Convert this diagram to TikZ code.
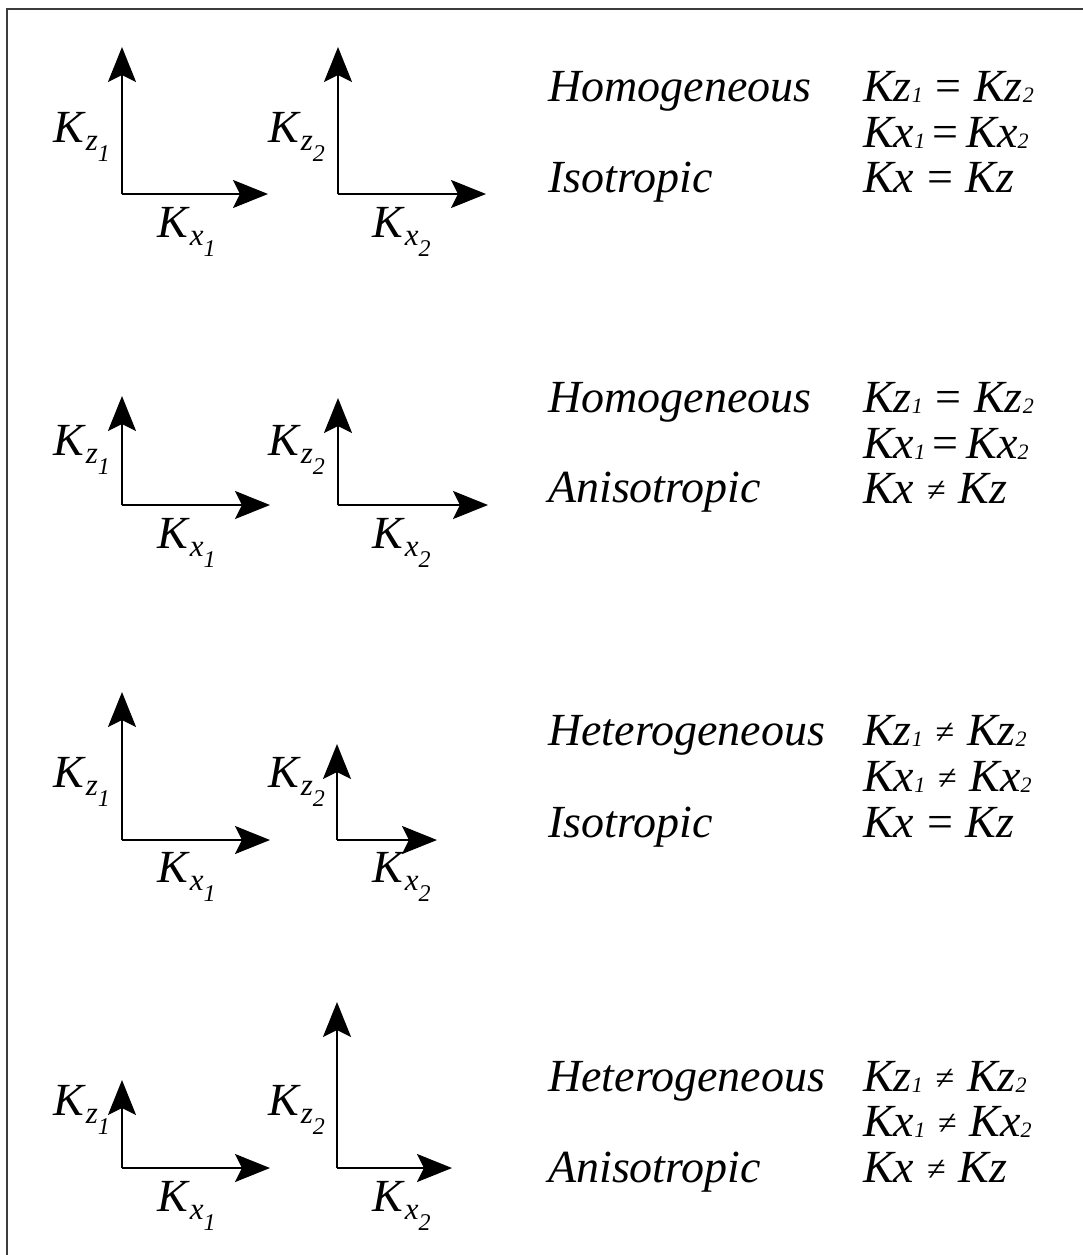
\documentclass[tikz,border=0pt]{standalone}
\usepackage{fontspec}
\setmainfont{Liberation Serif}
\usetikzlibrary{arrows.meta}
\definecolor{framegray}{RGB}{60, 60, 60}
% axis label K with a subscript and a sub-subscript
\newcommand{\kaxis}[2]{\textit{K}\raisebox{-8pt}{\fontsize{31}{31}\selectfont\textit{#1}\raisebox{-11pt}{\fontsize{24}{24}\selectfont\textit{#2}}}}
% K value with a small index, as in the right column
\newcommand{\kval}[2]{\textit{K#1}\raisebox{-1pt}{\fontsize{22}{22}\selectfont\textit{#2}}}
\newcommand{\keq}{\;=\;}
\newcommand{\kne}{\;{\fontsize{34}{34}\selectfont\raisebox{2pt}{≠}}\;}
\tikzset{
  axis/.style={line width=2.4pt, -{Stealth[length=35pt, width=28pt, inset=7pt]}},
  word/.style={anchor=base west, inner sep=0pt, font=\fontsize{46}{46}\selectfont\itshape},
  klabel/.style={anchor=base west, inner sep=0pt, font=\fontsize{46}{46}\selectfont}
}

\begin{document}
\begin{tikzpicture}[x=1pt, y=-1pt]
\useasboundingbox (0,0) rectangle (1083,1255);
\draw[framegray, line width=2pt] (7,1255) -- (7,9) -- (1083,9);

% row 1: homogeneous, isotropic
\coordinate (oa1) at (122,194); \coordinate (za1) at (122,47); \coordinate (xa1) at (268,194);
\coordinate (ob1) at (338,194); \coordinate (zb1) at (338,47); \coordinate (xb1) at (486,194);
\draw[axis] (oa1) -- (za1); \draw[axis] (oa1) -- (xa1);
\draw[axis] (ob1) -- (zb1); \draw[axis] (ob1) -- (xb1);
\node[klabel] (lza1) at (53,142) {\kaxis{z}{1}};
\node[klabel] (lxa1) at (157,237) {\kaxis{x}{1}};
\node[klabel] (lzb1) at (268,142) {\kaxis{z}{2}};
\node[klabel] (lxb1) at (372,237) {\kaxis{x}{2}};
\node[word] (hom1) at (548,101) {Homogeneous};
\node[word] (iso1) at (548,192) {Isotropic};
\node[klabel] (ez1) at (863,101) {\kval{z}{1}\keq\kval{z}{2}};
\node[klabel] (ex1) at (863,147) {\kval{x}{1}\,=\,\kval{x}{2}};
\node[klabel] (ek1) at (863,192) {\textit{Kx}\keq\textit{Kz}};

% row 2: homogeneous, anisotropic
\coordinate (oa2) at (122,505); \coordinate (za2) at (122,396); \coordinate (xa2) at (270,505);
\coordinate (ob2) at (338,505); \coordinate (zb2) at (338,398); \coordinate (xb2) at (488,505);
\draw[axis] (oa2) -- (za2); \draw[axis] (oa2) -- (xa2);
\draw[axis] (ob2) -- (zb2); \draw[axis] (ob2) -- (xb2);
\node[klabel] (lza2) at (53,455) {\kaxis{z}{1}};
\node[klabel] (lxa2) at (157,548) {\kaxis{x}{1}};
\node[klabel] (lzb2) at (268,455) {\kaxis{z}{2}};
\node[klabel] (lxb2) at (372,548) {\kaxis{x}{2}};
\node[word] (hom2) at (548,412) {Homogeneous};
\node[word] (ani2) at (548,502) {Anisotropic};
\node[klabel] (ez2) at (863,412) {\kval{z}{1}\keq\kval{z}{2}};
\node[klabel] (ex2) at (863,458) {\kval{x}{1}\,=\,\kval{x}{2}};
\node[klabel] (ek2) at (863,503) {\textit{Kx}\kne\textit{Kz}};

% row 3: heterogeneous, isotropic
\coordinate (oa3) at (122,840); \coordinate (za3) at (122,692); \coordinate (xa3) at (270,840);
\coordinate (ob3) at (337,840); \coordinate (zb3) at (337,744); \coordinate (xb3) at (437,840);
\draw[axis] (oa3) -- (za3); \draw[axis] (oa3) -- (xa3);
\draw[axis] (ob3) -- (zb3); \draw[axis] (ob3) -- (xb3);
\node[klabel] (lza3) at (53,787) {\kaxis{z}{1}};
\node[klabel] (lxa3) at (157,882) {\kaxis{x}{1}};
\node[klabel] (lzb3) at (268,787) {\kaxis{z}{2}};
\node[klabel] (lxb3) at (372,882) {\kaxis{x}{2}};
\node[word] (het3) at (548,745) {Heterogeneous};
\node[word] (iso3) at (548,837) {Isotropic};
\node[klabel] (ez3) at (863,745) {\kval{z}{1}\kne\kval{z}{2}};
\node[klabel] (ex3) at (863,791) {\kval{x}{1}\kne\kval{x}{2}};
\node[klabel] (ek3) at (863,837) {\textit{Kx}\keq\textit{Kz}};

% row 4: heterogeneous, anisotropic
\coordinate (oa4) at (122,1168); \coordinate (za4) at (122,1080); \coordinate (xa4) at (270,1168);
\coordinate (ob4) at (337,1168); \coordinate (zb4) at (337,1002); \coordinate (xb4) at (452,1168);
\draw[axis] (oa4) -- (za4); \draw[axis] (oa4) -- (xa4);
\draw[axis] (ob4) -- (zb4); \draw[axis] (ob4) -- (xb4);
\node[klabel] (lza4) at (53,1115) {\kaxis{z}{1}};
\node[klabel] (lxa4) at (157,1211) {\kaxis{x}{1}};
\node[klabel] (lzb4) at (268,1115) {\kaxis{z}{2}};
\node[klabel] (lxb4) at (372,1211) {\kaxis{x}{2}};
\node[word] (het4) at (548,1091) {Heterogeneous};
\node[word] (ani4) at (548,1182) {Anisotropic};
\node[klabel] (ez4) at (863,1091) {\kval{z}{1}\kne\kval{z}{2}};
\node[klabel] (ex4) at (863,1136) {\kval{x}{1}\kne\kval{x}{2}};
\node[klabel] (ek4) at (863,1182) {\textit{Kx}\kne\textit{Kz}};
\end{tikzpicture}
\end{document}
